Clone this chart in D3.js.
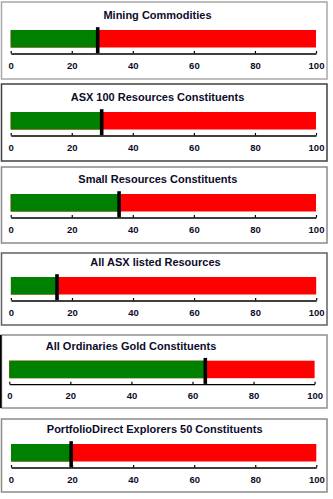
<!DOCTYPE html>
<html><head><meta charset="utf-8">
<script src="https://cdn.jsdelivr.net/npm/d3@7"></script>
<style>
html,body{margin:0;padding:0;background:#fff;}
svg{display:block;}
</style></head>
<body>
<script>
// ---- data ----
const titles = [
  "Mining Commodities",
  "ASX 100 Resources Constituents",
  "Small Resources Constituents",
  "All ASX listed Resources",
  "All Ordinaries Gold Constituents",
  "PortfolioDirect Explorers 50 Constituents"
];
const values = [28.5, 29.8, 35.5, 15.1, 64.2, 19.7];
const domainMin = 0, domainMax = 100;
const tickValues = [0, 20, 40, 60, 80, 100];

// ---- layout (positions only) ----
const W = 333, H = 499;
const panelTop    = [2, 84, 167, 253, 335, 419];
const panelBottom = [79, 161, 243, 325, 408, 492];
const barTop      = [30, 112, 194, 277, 360.7, 444];
const axisDx      = [0, 0, 0, 0.2, -1.4, 0.3];
const titleX      = [157.5, 157.5, 157.8, 155.5, 131, 154.7];
const borderCol   = ["#a8a8a8", "#404040", "#8a8a8a", "#606060", "#909090", "#8a8a8a"];

const svg = d3.select("body").append("svg").attr("width", W).attr("height", H);

titles.forEach((t, i) => {
  const g = svg.append("g");
  const x = d3.scaleLinear().domain([domainMin, domainMax]).range([10.7 + axisDx[i], 316 + axisDx[i]]);
  const by = barTop[i], bh = 17.5;

  // panel frame
  g.append("rect")
    .attr("x", 1.5).attr("y", panelTop[i])
    .attr("width", 325.5).attr("height", panelBottom[i] - panelTop[i])
    .attr("fill", "#fff").attr("stroke", borderCol[i]).attr("stroke-width", 1.5);
  if (i === 4) {
    g.append("line").attr("x1", 0.8).attr("x2", 0.8)
      .attr("y1", panelTop[i]).attr("y2", panelBottom[i])
      .attr("stroke", "#000").attr("stroke-width", 1.6);
  }

  // title
  g.append("text")
    .attr("x", titleX[i]).attr("y", by - 15)
    .attr("text-anchor", "middle").attr("dominant-baseline", "central")
    .attr("font-family", "Liberation Sans, Arial, sans-serif")
    .attr("font-weight", "bold").attr("font-size", "11px")
    .attr("fill", "#0c0c2a")
    .text(t);

  // red background range, green value bar
  g.append("rect")
    .attr("x", x(domainMin)).attr("y", by)
    .attr("width", x(domainMax) - x(domainMin)).attr("height", bh)
    .attr("fill", "#ff0000");
  g.append("rect")
    .attr("x", x(domainMin)).attr("y", by)
    .attr("width", x(values[i]) - x(domainMin)).attr("height", bh)
    .attr("fill", "#008000");

  // axis
  const axis = d3.axisBottom(x).tickValues(tickValues).tickSize(-2.5).tickPadding(8.5).tickSizeOuter(0);
  const ag = g.append("g").attr("transform", `translate(0,${by + 23.5})`).call(axis);
  ag.select(".domain").attr("stroke", "#000").attr("stroke-width", 1.3);
  ag.selectAll(".tick line").attr("stroke", "#000").attr("stroke-width", 1.2);
  ag.selectAll(".tick text")
    .attr("font-family", "Liberation Sans, Arial, sans-serif")
    .attr("font-weight", "bold").attr("font-size", "9.5px")
    .attr("fill", "#0c0c2a");

  // marker
  g.append("rect")
    .attr("x", x(values[i]) - 1.8).attr("y", by - 2.8)
    .attr("width", 3.6).attr("height", 26)
    .attr("fill", "#000");
});
</script>
</body></html>
